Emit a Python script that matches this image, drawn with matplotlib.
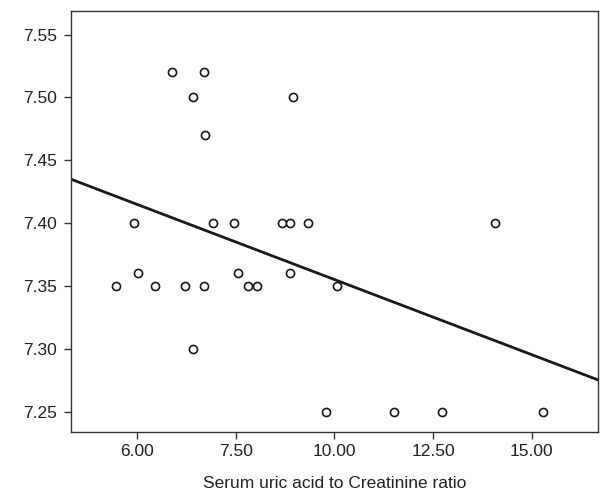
import matplotlib
matplotlib.use("Agg")
import matplotlib.pyplot as plt
import numpy as np

plt.rcParams['font.family'] = ['Liberation Sans', 'DejaVu Sans']

# Data (x in axis units, y values)
x_vals = [5.87, 6.70, 6.42, 6.71, 8.95,
          4.92, 6.93, 7.45, 8.68, 8.86, 9.33, 14.07,
          4.47, 5.03, 5.44, 6.21, 6.70, 6.40, 7.56, 7.81, 8.03, 8.86,
          10.06, 9.78, 11.52, 12.73, 15.28]
y_vals = [7.52, 7.52, 7.50, 7.47, 7.50,
          7.40, 7.40, 7.40, 7.40, 7.40, 7.40, 7.40,
          7.35, 7.36, 7.35, 7.35, 7.35, 7.30, 7.36, 7.35, 7.35, 7.36,
          7.35, 7.25, 7.25, 7.25, 7.25]

# Fit line
line_intercept_at_xmin = 7.435
line_slope = -0.01195

x_tick_pos = [5.0, 7.5, 10.0, 12.5, 15.0]
x_tick_labels = ["6.00", "7.50", "10.00", "12.50", "15.00"]
y_ticks = [7.25, 7.30, 7.35, 7.40, 7.45, 7.50, 7.55]
y_tick_labels = ["7.25", "7.30", "7.35", "7.40", "7.45", "7.50", "7.55"]
x_label = "Serum uric acid to Creatinine ratio"

xmin, xmax = 3.31, 16.69
ymin, ymax = 7.234, 7.569

fig = plt.figure(figsize=(6.04, 4.97), dpi=100)
ax = fig.add_axes([0.117, 0.1314, 0.8736, 0.8471])

ax.scatter(x_vals, y_vals, s=34, facecolors='white', edgecolors='#1a1a1a',
           linewidths=1.2, zorder=3)

lx = np.array([xmin, xmax])
ly = line_intercept_at_xmin + line_slope * (lx - xmin)
ax.plot(lx, ly, color='#1a1a1a', lw=2.0, zorder=2)

ax.set_xlim(xmin, xmax)
ax.set_ylim(ymin, ymax)
ax.set_xticks(x_tick_pos)
ax.set_xticklabels(x_tick_labels)
ax.set_yticks(y_ticks)
ax.set_yticklabels(y_tick_labels)
ax.tick_params(axis='both', direction='out', length=5, width=1.0,
               colors='#333333', labelsize=12.5, labelcolor='#222222')
ax.tick_params(axis='x', pad=4)
ax.tick_params(axis='y', pad=5)
for s in ax.spines.values():
    s.set_color('#333333')
    s.set_linewidth(1.0)

ax.set_xlabel(x_label, fontsize=12.5, color='#222222', labelpad=12)

fig.savefig("out.png", dpi=100)
